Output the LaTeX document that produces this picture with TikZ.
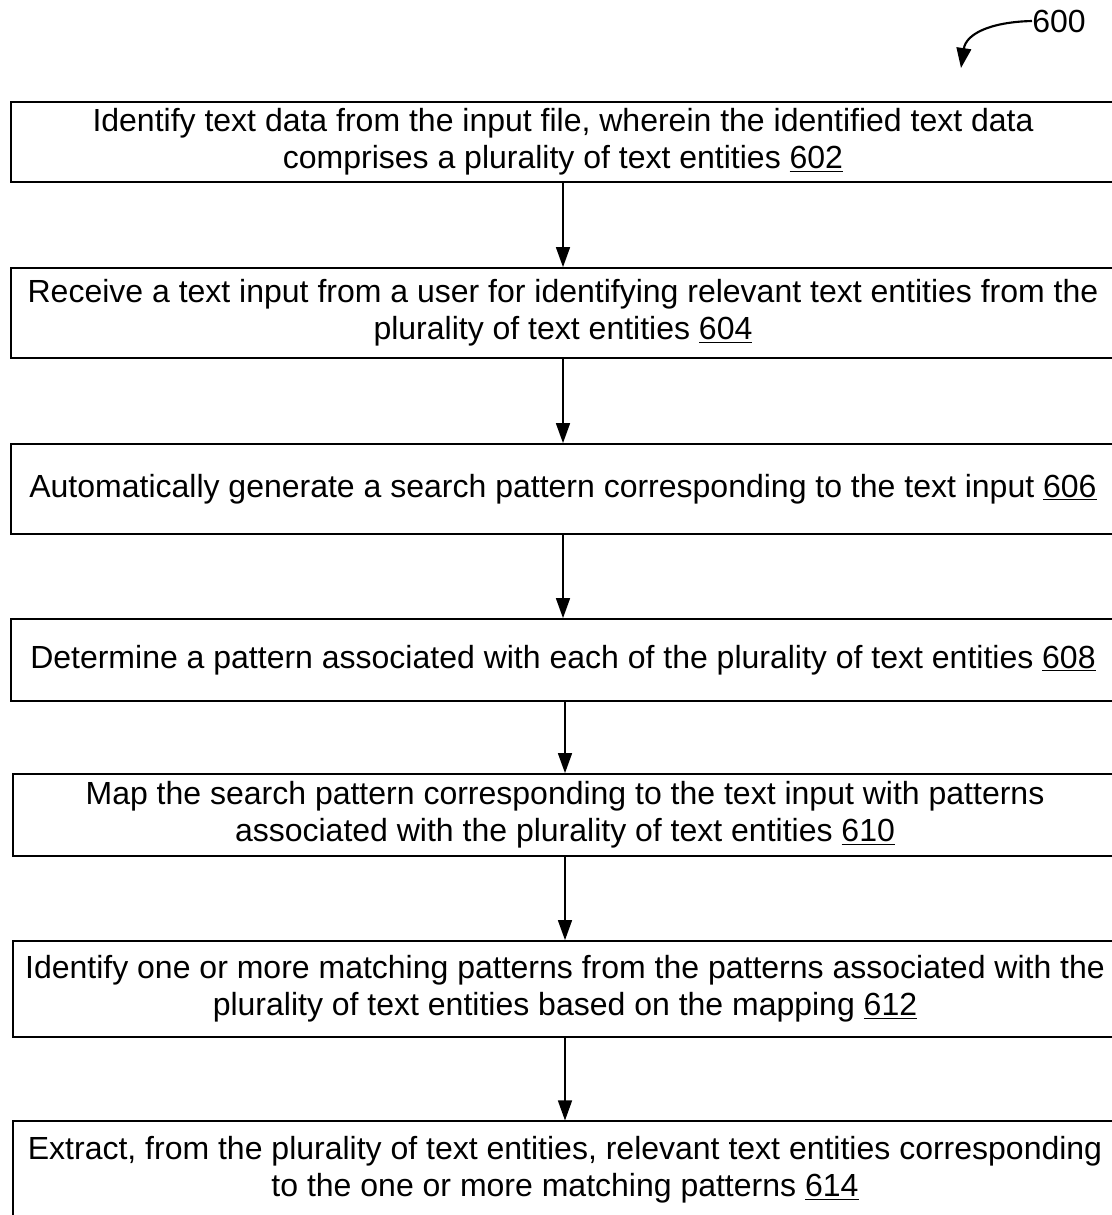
\documentclass[tikz,border=0pt]{standalone}
\usepackage{fontspec}
\setmainfont{Liberation Sans}
\usepackage{tikz}
\usetikzlibrary{arrows.meta,positioning}
\tikzstyle{arrow}=[-{Triangle[length=15pt,width=10.5pt]}, line width=1.1pt]

\begin{document}
\begin{tikzpicture}[x=0.75pt,y=-0.75pt,
  stepbox/.style={rectangle,draw=black,line width=1.3pt,minimum width=828pt,
    align=center,font=\fontsize{24}{27.5}\selectfont,inner sep=0pt}]
\useasboundingbox (0,0) rectangle (1112,1215);
\node[stepbox,minimum height=60pt] (s602) at (563,142)
  {Identify text data from the input file, wherein the identified text data\\
   comprises a plurality of text entities \underline{602}};
\node[stepbox,minimum height=67.5pt] (s604) at (563,313)
  {Receive a text input from a user for identifying relevant text entities from the\\
   plurality of text entities \underline{604}};
\node[stepbox,minimum height=67.5pt] (s606) at (563,489)
  {Automatically generate a search pattern corresponding to the text input \underline{606}};
\node[stepbox,minimum height=61.5pt] (s608) at (563,660)
  {Determine a pattern associated with each of the plurality of text entities \underline{608}};
\node[stepbox,minimum height=61.5pt] (s610) at (565,815)
  {Map the search pattern corresponding to the text input with patterns\\
   associated with the plurality of text entities \underline{610}};
\node[stepbox,minimum height=72pt] (s612) at (565,989)
  {Identify one or more matching patterns from the patterns associated with the\\
   plurality of text entities based on the mapping \underline{612}};
\node[stepbox,minimum height=73pt] (s614) at (565,1170)
  {Extract, from the plurality of text entities, relevant text entities corresponding\\
   to the one or more matching patterns \underline{614}};
% figure label
\node[font=\fontsize{24}{27}\selectfont,anchor=west,inner sep=0pt] (fig) at (1032,21) {600};
\coordinate (tip) at (961,68);
\draw[-{Triangle[length=15pt,width=11pt]},line width=1.6pt]
  (fig.west) .. controls (990,22) and (966,34) .. (tip);
\draw[arrow] (s602)--(s604); \draw[arrow] (s604)--(s606);
\draw[arrow] (s606)--(s608); \draw[arrow] (s608.south -| s610)--(s610);
\draw[arrow] (s610)--(s612); \draw[arrow] (s612)--(s614);
\end{tikzpicture}
\end{document}
